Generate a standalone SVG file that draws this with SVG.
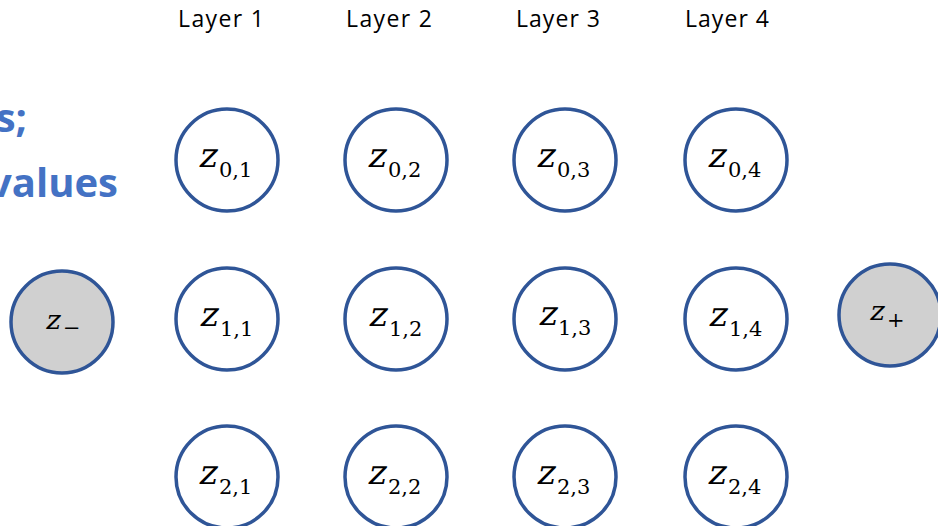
<svg xmlns="http://www.w3.org/2000/svg" width="938" height="526" viewBox="0 0 938 526">
<style>
  .node { fill: #FFFFFF; stroke: #2F5597; stroke-width: 3.5; }
  .term { fill: #D0D0D0; stroke: #2F5597; stroke-width: 3.5; }
  .layer { font-family: "Open Sans", "Liberation Sans", sans-serif; font-size: 23px; fill: #000000; }
  .title { font-family: "Open Sans", "Liberation Sans", sans-serif; font-size: 40px; font-weight: bold; fill: #4472C4; text-anchor: end; }
  .zv { font-family: "DejaVu Serif", "Liberation Serif", serif; font-size: 34px; fill: #000000; }
  .zs { font-family: "DejaVu Serif", "Liberation Serif", serif; font-size: 27px; fill: #000000; }
  .sub { font-family: "DejaVu Serif", "Liberation Serif", serif; font-size: 21px; fill: #000000; }
</style>
<rect x="0" y="0" width="938" height="526" fill="#FFFFFF"/>
<g id="title">
  <text class="title" x="27" y="132">s;</text>
  <text class="title" x="118" y="197">values</text>
</g>
<g id="layer-labels">
  <text class="layer" x="178" y="27" textLength="86" lengthAdjust="spacing">Layer 1</text>
  <text class="layer" x="346" y="27" textLength="86" lengthAdjust="spacing">Layer 2</text>
  <text class="layer" x="516" y="27" textLength="84" lengthAdjust="spacing">Layer 3</text>
  <text class="layer" x="685" y="27" textLength="84" lengthAdjust="spacing">Layer 4</text>
</g>
<g id="connectors"></g>
<g id="z_minus">
  <circle class="term" cx="62" cy="322" r="51"/>
  <text class="zs" transform="translate(45,329) skewX(-12)">z</text>
  <text class="sub" x="63" y="335">−</text>
</g>
<g id="z_plus">
  <circle class="term" cx="890" cy="315" r="51"/>
  <text class="zs" transform="translate(869,320) skewX(-12)">z</text>
  <text class="sub" x="887" y="327">+</text>
</g>
<g id="z_0_1"><circle class="node" cx="227" cy="160" r="51"/><text class="zv" transform="translate(198,167) skewX(-12)">z</text><text class="sub" x="219" y="177">0,1</text></g>
<g id="z_0_2"><circle class="node" cx="396" cy="160" r="51"/><text class="zv" transform="translate(367,167) skewX(-12)">z</text><text class="sub" x="388" y="177">0,2</text></g>
<g id="z_0_3"><circle class="node" cx="565" cy="160" r="51"/><text class="zv" transform="translate(536,167) skewX(-12)">z</text><text class="sub" x="557" y="177">0,3</text></g>
<g id="z_0_4"><circle class="node" cx="736" cy="160" r="51"/><text class="zv" transform="translate(707,167) skewX(-12)">z</text><text class="sub" x="728" y="177">0,4</text></g>
<g id="z_1_1"><circle class="node" cx="227" cy="319" r="51"/><text class="zv" transform="translate(199,326) skewX(-12)">z</text><text class="sub" x="220" y="336">1,1</text></g>
<g id="z_1_2"><circle class="node" cx="396" cy="319" r="51"/><text class="zv" transform="translate(368,326) skewX(-12)">z</text><text class="sub" x="389" y="336">1,2</text></g>
<g id="z_1_3"><circle class="node" cx="565" cy="319" r="51"/><text class="zv" transform="translate(538,325) skewX(-12)">z</text><text class="sub" x="558" y="335">1,3</text></g>
<g id="z_1_4"><circle class="node" cx="736" cy="319" r="51"/><text class="zv" transform="translate(708,326) skewX(-12)">z</text><text class="sub" x="729" y="336">1,4</text></g>
<g id="z_2_1"><circle class="node" cx="227" cy="477" r="51"/><text class="zv" transform="translate(198,484) skewX(-12)">z</text><text class="sub" x="219" y="494">2,1</text></g>
<g id="z_2_2"><circle class="node" cx="396" cy="477" r="51"/><text class="zv" transform="translate(367,484) skewX(-12)">z</text><text class="sub" x="388" y="494">2,2</text></g>
<g id="z_2_3"><circle class="node" cx="565" cy="477" r="51"/><text class="zv" transform="translate(536,484) skewX(-12)">z</text><text class="sub" x="557" y="494">2,3</text></g>
<g id="z_2_4"><circle class="node" cx="736" cy="477" r="51"/><text class="zv" transform="translate(707,484) skewX(-12)">z</text><text class="sub" x="728" y="494">2,4</text></g>
</svg>
